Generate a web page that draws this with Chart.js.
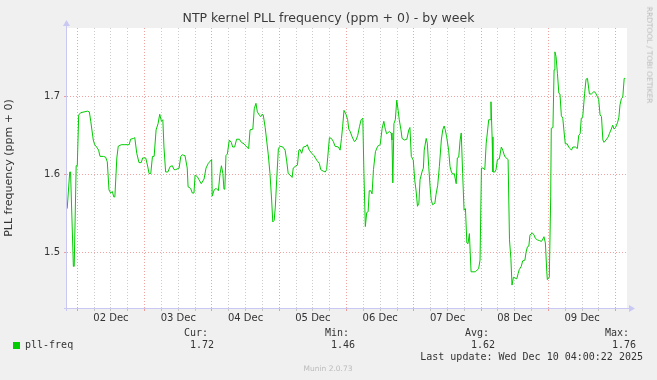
<!DOCTYPE html>
<html><head><meta charset="utf-8">
<script src="https://cdn.jsdelivr.net/npm/chart.js@4.4.1/dist/chart.umd.min.js"></script>
<style>
html,body{margin:0;padding:0;background:#F0F0F0;}
#wrap{position:relative;width:657px;height:380px;background:#F0F0F0;overflow:hidden;}
canvas{position:absolute;left:0;top:0;}
.t{position:absolute;font-family:'DejaVu Sans Mono',monospace;font-size:10px;line-height:12px;color:#333;white-space:pre;}
.sm{position:absolute;font-family:'DejaVu Sans',sans-serif;font-size:7.5px;line-height:10px;color:#bbb;white-space:pre;}
</style></head><body>
<div id="wrap">
<canvas id="c" width="657" height="380"></canvas>
</div>
<script>
// ---- data (hours since 02 Dec 00:00) ----
const hours = [
-3.6,-2.7,-2.4,-1.4,-1.1,-0.4,0,0.5,1.2,2.4,3.6,4.3,4.8,5.7,6.2,6.9,7.6,8.1,9.3,10.1,
10.7,11.3,11.9,12.5,13.0,13.4,14.1,14.6,15.7,16.7,17.8,18.5,19.0,20.0,20.5,21.2,22.0,22.8,23.3,24.4,
25.0,25.6,26.2,26.8,27.4,28.1,28.8,29.4,30.0,30.5,30.9,31.5,32.3,33.1,33.9,34.5,35.1,36.3,36.9,37.4,
38.4,39.2,39.5,40.4,41.0,41.6,42.0,42.8,43.4,44.2,
45.2,45.9,46.7,47.9,48.1,48.8,49.5,50.3,50.9,51.4,51.9,52.3,52.6,53.0,53.5,54.2,54.9,55.4,56.1,56.8,
57.8,58.5,59.5,60.4,61.1,61.6,62.6,63.1,63.7,64.2,64.9,65.4,65.9,66.3,67.0,68.1,68.7,69.3,69.7,70.2,
70.6,71.1,71.7,72.3,73.3,74.1,74.7,75.2,75.9,76.6,77.0,78.0,78.5,79.0,79.4,80.0,80.6,81.6,82.0,82.7,
83.6,84.4,85.4,86.3,86.8,87.7,88.4,88.9,89.3,89.9,90.6,91.3,91.9,93.1,
93.7,94.2,94.6,95.1,95.8,96.4,96.8,97.3,98.0,98.8,99.4,100.0,100.6,101.2,101.8,102.2,102.7,103.2,103.7,104.1,
104.6,105.1,105.6,106.3,107.1,108.0,108.7,109.3,109.8,110.3,111.3,111.9,112.2,112.5,112.9,113.4,113.9,114.4,114.8,115.4,
115.8,116.6,117.5,118.2,118.6,119.1,119.8,120.3,120.8,121.3,121.8,122.2,122.9,123.4,123.7,124.4,124.8,125.3,125.8,126.2,
126.7,127.5,127.9,128.5,129.1,129.8,130.3,130.8,131.2,131.7,132.4,132.9,133.4,133.9,134.4,135.1,135.5,136.0,136.5,136.9,
137.4,137.9,138.4,138.9,139.3,139.8,140.4,141.9,
142.5,143.1,143.6,144.1,144.6,145.3,145.8,146.2,146.7,147.2,147.5,147.9,148.2,148.9,149.3,149.8,150.5,151.2,151.7,152.2,
152.6,153.6,154.1,154.6,155.0,155.5,156.7,157.2,157.6,158.3,158.8,159.6,160.0,160.5,161.0,161.4,162.2,162.9,163.3,164.0,
164.8,165.5,166.0,166.4,166.9,167.4,167.6,168.3,168.8,169.0,169.6,170.0,170.3,170.7,171.2,171.7,172.1,172.6,173.1,173.6,
174.0,174.7,175.2,175.7,176.2,176.7,177.6,178.3,178.8,179.3,179.7,180.2,180.9,181.4,181.9,182.6,183.3,184.2,184.7,185.4,
185.9,186.4,186.9,187.4,187.8,188.5,189.3,189.7,190.4,190.9,191.4,191.9,192.6,193.1,193.5,194.0,194.5,195.0,195.4
];
const pllFreq = [
1.556,1.603,1.603,1.482,1.482,1.611,1.611,1.676,1.679,1.680,1.681,1.680,1.668,1.644,1.638,1.635,1.631,1.623,1.623,1.622,
1.616,1.580,1.576,1.578,1.571,1.571,1.621,1.636,1.638,1.638,1.638,1.638,1.645,1.646,1.647,1.627,1.615,1.615,1.621,1.621,
1.612,1.601,1.601,1.623,1.623,1.657,1.665,1.677,1.668,1.670,1.635,1.603,1.603,1.610,1.611,1.606,1.606,1.608,1.623,1.625,
1.624,1.608,1.584,1.582,1.576,1.576,1.599,1.597,1.593,1.588,
1.594,1.608,1.614,1.619,1.572,1.580,1.582,1.579,1.601,1.611,1.601,1.581,1.581,1.624,1.626,1.644,1.641,1.635,1.635,1.645,
1.645,1.641,1.639,1.635,1.633,1.657,1.658,1.684,1.691,1.680,1.676,1.674,1.677,1.676,1.660,1.625,1.601,1.567,1.539,1.541,
1.558,1.593,1.633,1.636,1.635,1.631,1.616,1.601,1.599,1.596,1.608,1.611,1.612,1.631,1.632,1.627,1.635,1.636,1.638,1.631,
1.627,1.624,1.618,1.614,1.606,1.604,1.603,1.606,1.622,1.647,1.646,1.642,1.636,1.635,
1.631,1.646,1.661,1.682,1.677,1.670,1.658,1.655,1.648,1.642,1.644,1.650,1.661,1.670,1.672,1.601,1.533,1.551,1.552,1.579,
1.579,1.575,1.606,1.629,1.636,1.638,1.659,1.668,1.658,1.652,1.655,1.653,1.644,1.589,1.665,1.670,1.695,1.682,1.670,1.657,
1.646,1.644,1.645,1.657,1.660,1.623,1.618,1.593,1.579,1.559,1.563,1.593,1.603,1.608,1.631,1.646,1.640,1.610,1.584,1.567,
1.561,1.563,1.574,1.586,1.610,1.644,1.657,1.662,1.657,1.648,1.631,1.610,1.603,1.600,1.601,1.588,1.621,1.622,1.644,1.653,
1.601,1.554,1.556,1.512,1.511,1.524,1.475,1.475,
1.477,1.479,1.490,1.608,1.608,1.606,1.640,1.653,1.670,1.670,1.693,1.648,1.603,1.603,1.606,1.619,1.620,1.635,1.631,1.625,
1.622,1.619,1.516,1.492,1.458,1.468,1.466,1.473,1.478,1.482,1.489,1.490,1.500,1.507,1.508,1.522,1.525,1.522,1.518,1.516,
1.515,1.514,1.517,1.520,1.512,1.475,1.465,1.468,1.572,1.659,1.660,1.734,1.757,1.751,1.729,1.704,1.703,1.675,1.672,1.653,
1.639,1.639,1.635,1.633,1.631,1.635,1.635,1.633,1.650,1.652,1.672,1.673,1.704,1.722,1.723,1.703,1.703,1.706,1.705,1.700,
1.696,1.676,1.674,1.644,1.641,1.644,1.648,1.652,1.658,1.663,1.658,1.660,1.666,1.673,1.689,1.697,1.699,1.723,1.723
];
const dayLabels = ['02 Dec','03 Dec','04 Dec','05 Dec','06 Dec','07 Dec','08 Dec','09 Dec'];
const gridHours = [0,6,12,18,24,30,36,42,48,54,60,66,72,78,84,90,96,102,108,114,120,126,132,138,144,150,156,162,168,174,180,186,192];
const yTicks = [1.5, 1.6, 1.7];
const statNames = ['Cur:','Min:','Avg:','Max:'];
const statValues = ['1.72','1.46','1.62','1.76'];
const seriesName = 'pll-freq';
const titleText = 'NTP kernel PLL frequency (ppm + 0) - by week';
const yTitle = 'PLL frequency (ppm + 0)';
const lastUpdate = 'Last update: Wed Dec 10 04:00:22 2025';

// ---- layout constants ----
const X_MIN = -3.67, X_MAX = 196.0, Y_MIN = 1.4286, Y_MAX = 1.7876;
const RED = 'rgba(235,100,100,0.6)', GRAY = 'rgba(170,170,170,0.6)', AXIS = '#c8c8f2';

const plotBg = {
  id: 'plotBg',
  beforeDraw(chart) {
    const {ctx, chartArea: a} = chart;
    ctx.save(); ctx.fillStyle = '#ffffff';
    ctx.fillRect(a.left, a.top, a.right - a.left, a.bottom - a.top);
    ctx.restore();
  }
};
const arrows = {
  id: 'arrows',
  afterDraw(chart) {
    const {ctx, chartArea: a} = chart;
    ctx.save();
    ctx.strokeStyle = AXIS; ctx.fillStyle = AXIS; ctx.lineWidth = 1;
    ctx.beginPath();
    ctx.moveTo(a.left - 0.5, a.bottom + 3); ctx.lineTo(a.left - 0.5, a.top - 4);
    ctx.moveTo(a.left - 3, a.bottom + 0.5); ctx.lineTo(a.right + 3, a.bottom + 0.5);
    ctx.stroke();
    ctx.beginPath();
    ctx.moveTo(a.left - 4, a.top - 2); ctx.lineTo(a.left + 3, a.top - 2); ctx.lineTo(a.left - 0.5, a.top - 8); ctx.closePath(); ctx.fill();
    ctx.beginPath();
    ctx.moveTo(a.right + 2, a.bottom - 3); ctx.lineTo(a.right + 2, a.bottom + 4); ctx.lineTo(a.right + 8, a.bottom + 0.5); ctx.closePath(); ctx.fill();
    ctx.restore();
  }
};

new Chart(document.getElementById('c').getContext('2d'), {
  type: 'line',
  data: { datasets: [{ label: seriesName, data: hours.map((h, i) => ({x: h, y: pllFreq[i]})),
    borderColor: '#00CC00', borderWidth: 1, pointRadius: 0, tension: 0, fill: false }] },
  options: {
    responsive: false, animation: false, devicePixelRatio: 1,
    layout: { padding: 0 },
    plugins: {
      legend: { display: false }, tooltip: { enabled: false },
      title: { display: true, text: titleText, color: '#3a3a3a',
        font: { family: 'DejaVu Sans', size: 12.5, weight: 'normal' }, padding: { top: 11.5, bottom: 1.5 } }
    },
    scales: {
      x: {
        type: 'linear', min: X_MIN, max: X_MAX,
        afterBuildTicks(s) { s.ticks = gridHours.map(v => ({value: v})); },
        afterFit(s) { s.height = 72; },
        grid: { color: c => (c.tick && c.tick.value % 24 === 0) ? RED : GRAY, lineWidth: 1, drawTicks: true, tickLength: 3 },
        border: { display: false, dash: [1, 2] },
        ticks: { autoSkip: false, maxRotation: 0, padding: 1, color: '#333',
          font: { family: 'DejaVu Sans', size: 10 },
          callback: v => (v % 24 === 12) ? dayLabels[(v - 12) / 24] : '' }
      },
      y: {
        min: Y_MIN, max: Y_MAX,
        afterBuildTicks(s) { s.ticks = yTicks.map(v => ({value: v})); },
        afterFit(s) { s.width = 67; },
        grid: { color: RED, lineWidth: 1, drawTicks: true, tickLength: 3 },
        border: { display: false, dash: [1, 2] },
        ticks: { padding: 4, color: '#333', font: { family: 'DejaVu Sans', size: 10 }, callback: v => v.toFixed(1) },
        title: { display: true, text: yTitle, color: '#333', font: { family: 'DejaVu Sans', size: 11 }, padding: { top: 3, bottom: 0 } }
      },
      yr: {
        position: 'right', min: Y_MIN, max: Y_MAX,
        afterFit(s) { s.width = 30; },
        grid: { display: false, drawOnChartArea: false }, border: { display: false },
        ticks: { display: false }
      }
    }
  },
  plugins: [plotBg, arrows]
});

// ---- text below the chart ----
const wrap = document.getElementById('wrap');
function addText(cls, txt, x, y, align, extra) {
  const d = document.createElement('div');
  d.className = cls; d.textContent = txt;
  d.style.top = y + 'px';
  if (align === 'right') d.style.right = (657 - x) + 'px'; else d.style.left = x + 'px';
  if (extra) Object.assign(d.style, extra);
  wrap.appendChild(d);
  return d;
}
const sq = document.createElement('div');
Object.assign(sq.style, {position: 'absolute', left: '13px', top: '342px', width: '7px', height: '7px', background: '#00CC00'});
wrap.appendChild(sq);
addText('t', seriesName, 25, 339);
const nameRight = [208, 349, 489, 629];
const valRight = [214, 355, 495, 636];
statNames.forEach((n, i) => addText('t', n, nameRight[i], 327, 'right'));
statValues.forEach((v, i) => addText('t', v, valRight[i], 339, 'right'));
addText('t', lastUpdate, 643, 351, 'right');
addText('sm', 'Munin 2.0.73', 328, 364, 'left', {transform: 'translateX(-50%)'});
addText('sm', 'RRDTOOL / TOBI OETIKER', 649, 55, 'left', {transform: 'translate(-50%,-50%) rotate(90deg)', transformOrigin: 'center center'});
</script>
</body></html>
